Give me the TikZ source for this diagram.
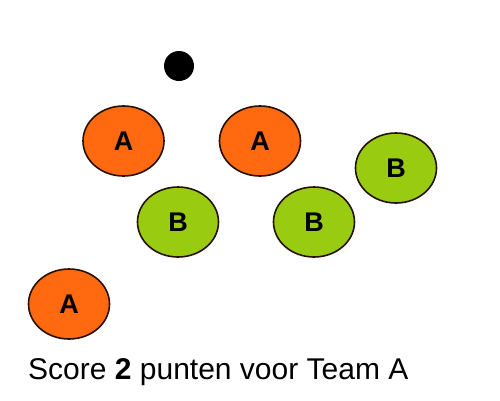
\documentclass[tikz,border=0pt]{standalone}
\usepackage{fontspec}
\setmainfont{Liberation Sans}
\usetikzlibrary{shapes.geometric}
\definecolor{teamA}{HTML}{FF6A10}
\definecolor{teamB}{HTML}{99CC11}
\begin{document}
\begin{tikzpicture}[x=1pt,y=-1pt,
  player/.style={ellipse, draw=black!85!teamA, line width=1.6pt, minimum width=81pt, minimum height=70pt, inner sep=0pt, font=\fontsize{27}{27}\selectfont\bfseries},
  pa/.style={player, fill=teamA},
  pb/.style={player, fill=teamB}]
\useasboundingbox (0,0) rectangle (500,400);
\node[circle, fill=black, minimum size=30pt, inner sep=0pt] (ball) at (179,66) {};
\node[pa] (a1) at (123.5,141) {A};
\node[pa] (a2) at (260,141) {A};
\node[pb] (b3) at (396,168) {B};
\node[pb] (b1) at (178,222) {B};
\node[pb] (b2) at (314,222) {B};
\node[pa] (a3) at (69,304) {A};
\node[anchor=base west, inner sep=0pt, font=\fontsize{30}{30}\selectfont] (score) at (28,379) {Score \textbf{2} punten voor Team A};
\end{tikzpicture}
\end{document}
